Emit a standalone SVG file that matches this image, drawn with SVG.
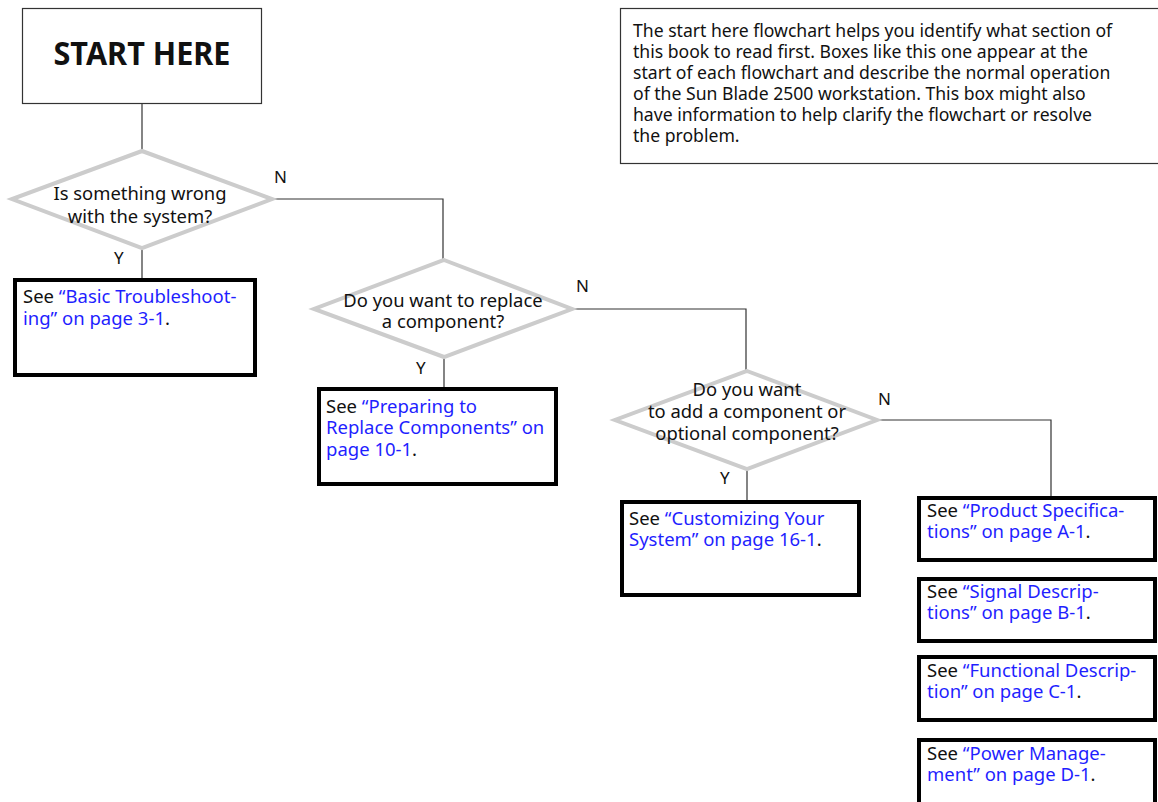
<svg xmlns="http://www.w3.org/2000/svg" width="1158" height="802" viewBox="0 0 1158 802">
<style>
text{font-family:"Noto Sans","Open Sans","DejaVu Sans",sans-serif;fill:#111}
.t{font-size:18.5px}
.d{font-size:18.4px;text-anchor:middle}
.lbl{font-size:17px}
.lk{fill:#1f1fff}
.box{fill:#fff;stroke:#000;stroke-width:4}
.dia{fill:#fff;stroke:#cccccc;stroke-width:4}
.con{fill:none;stroke:#333;stroke-width:1.2}
.thin{fill:#fff;stroke:#333;stroke-width:1.2}
</style>
<rect width="1158" height="802" fill="#fff"/>
<g id="connectors">
<path class="con" d="M142 104V151"/>
<path class="con" d="M272 199H443V260"/>
<path class="con" d="M142 248V280"/>
<path class="con" d="M572 309H746V371"/>
<path class="con" d="M444 357V387"/>
<path class="con" d="M877 420H1051V496"/>
<path class="con" d="M747 469V500"/>
<text class="lbl" x="274" y="183">N</text>
<text class="lbl" x="114" y="264">Y</text>
<text class="lbl" x="576" y="292">N</text>
<text class="lbl" x="416" y="374">Y</text>
<text class="lbl" x="878" y="405">N</text>
<text class="lbl" x="720" y="484">Y</text>
</g>
<g id="note">
<rect class="thin" x="620.5" y="8.5" width="560" height="155"/>
<text style="font-size:17.6px">
<tspan x="633" y="37">The start here flowchart helps you identify what section of</tspan>
<tspan x="633" y="58">this book to read first. Boxes like this one appear at the</tspan>
<tspan x="633" y="79">start of each flowchart and describe the normal operation</tspan>
<tspan x="633" y="100">of the Sun Blade 2500 workstation. This box might also</tspan>
<tspan x="633" y="121">have information to help clarify the flowchart or resolve</tspan>
<tspan x="633" y="142">the problem.</tspan>
</text>
</g>
<g id="start">
<rect class="thin" x="22.5" y="8.5" width="239" height="95"/>
<text x="142" y="65" text-anchor="middle" style="font-size:32px;font-weight:bold" textLength="177" lengthAdjust="spacingAndGlyphs">START HERE</text>
</g>
<g id="q1">
<polygon class="dia" points="142,151 272,199 142,248 12,199"/>
<text class="d"><tspan x="140" y="200">Is something wrong</tspan><tspan x="140" y="223">with the system?</tspan></text>
</g>
<g id="a1">
<rect class="box" x="15" y="280" width="240" height="95"/>
<text class="t"><tspan x="23" y="303">See <tspan class="lk">“Basic Troubleshoot-</tspan></tspan><tspan x="23" y="325"><tspan class="lk">ing” on page 3-1</tspan>.</tspan></text>
</g>
<g id="q2">
<polygon class="dia" points="444,260 572,309 444,357 314,309"/>
<text class="d"><tspan x="443" y="307">Do you want to replace</tspan><tspan x="443" y="328">a component?</tspan></text>
</g>
<g id="a2">
<rect class="box" x="319" y="389" width="237" height="95"/>
<text class="t"><tspan x="326" y="413">See <tspan class="lk">“Preparing to</tspan></tspan><tspan x="326" y="434" class="lk">Replace Components” on</tspan><tspan x="326" y="456"><tspan class="lk">page 10-1</tspan>.</tspan></text>
</g>
<g id="q3">
<polygon class="dia" points="747,371 877,420 747,469 615,420"/>
<text class="d"><tspan x="747" y="396">Do you want</tspan><tspan x="747" y="418">to add a component or</tspan><tspan x="747" y="440">optional component?</tspan></text>
</g>
<g id="a3">
<rect class="box" x="622" y="502" width="237" height="93"/>
<text class="t"><tspan x="629" y="525">See <tspan class="lk">“Customizing Your</tspan></tspan><tspan x="629" y="546"><tspan class="lk">System” on page 16-1</tspan>.</tspan></text>
</g>
<g id="r1">
<rect class="box" x="919" y="498" width="236" height="62"/>
<text class="t"><tspan x="927" y="517">See <tspan class="lk">“Product Specifica-</tspan></tspan><tspan x="927" y="538"><tspan class="lk">tions” on page A-1</tspan>.</tspan></text>
</g>
<g id="r2">
<rect class="box" x="919" y="579" width="236" height="62"/>
<text class="t"><tspan x="927" y="598">See <tspan class="lk">“Signal Descrip-</tspan></tspan><tspan x="927" y="619"><tspan class="lk">tions” on page B-1</tspan>.</tspan></text>
</g>
<g id="r3">
<rect class="box" x="919" y="657" width="236" height="63"/>
<text class="t"><tspan x="927" y="677">See <tspan class="lk">“Functional Descrip-</tspan></tspan><tspan x="927" y="698"><tspan class="lk">tion” on page C-1</tspan>.</tspan></text>
</g>
<g id="r4">
<rect class="box" x="919" y="740" width="236" height="75"/>
<text class="t"><tspan x="927" y="760">See <tspan class="lk">“Power Manage-</tspan></tspan><tspan x="927" y="781"><tspan class="lk">ment” on page D-1</tspan>.</tspan></text>
</g>
</svg>
